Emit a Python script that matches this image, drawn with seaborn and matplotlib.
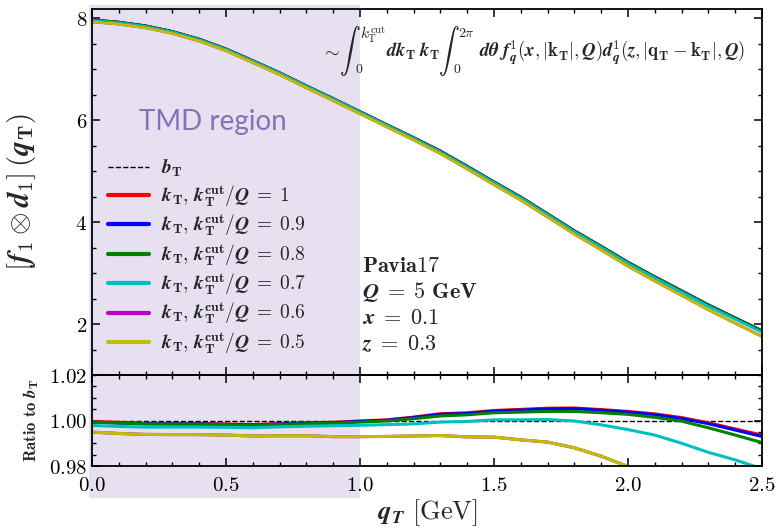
import numpy as np
import matplotlib
matplotlib.use("Agg")
import matplotlib.pyplot as plt
import matplotlib.ticker as mticker
from matplotlib.patches import Rectangle
from matplotlib.transforms import blended_transform_factory
import seaborn as sns

# transverse momentum grid [GeV]
q_T = [0.0, 0.1, 0.2, 0.3, 0.4, 0.5, 0.6, 0.7, 0.8, 0.9, 1.0, 1.1, 1.2,
       1.3, 1.4, 1.5, 1.6, 1.7, 1.8, 1.9, 2.0, 2.1, 2.2, 2.3, 2.4, 2.5]

# b_T-space result for [f1 (x) d1](q_T)
conv_bT = [7.97, 7.93, 7.86, 7.75, 7.60, 7.41, 7.18, 6.94, 6.68, 6.43, 6.17,
           5.91, 5.65, 5.38, 5.08, 4.77, 4.47, 4.14, 3.81, 3.51, 3.20, 2.92,
           2.65, 2.38, 2.13, 1.88]

# ratio of the k_T-space convolution (with cut) to the b_T result
ratio_cut10 = [0.9996, 0.9992, 0.9988, 0.9987, 0.9987, 0.9985, 0.9982, 0.9987,
               0.9990, 0.9992, 0.9998, 1.0003, 1.0015, 1.0030, 1.0034, 1.0044,
               1.0049, 1.0054, 1.0055, 1.0048, 1.0040, 1.0029, 1.0013, 0.9990,
               0.9963, 0.9936]
ratio_cut09 = [0.9993, 0.9989, 0.9986, 0.9985, 0.9985, 0.9983, 0.9980, 0.9985,
               0.9988, 0.9990, 0.9996, 1.0001, 1.0013, 1.0027, 1.0031, 1.0041,
               1.0046, 1.0051, 1.0052, 1.0045, 1.0037, 1.0026, 1.0009, 0.9986,
               0.9958, 0.9930]
ratio_cut08 = [0.9993, 0.9989, 0.9985, 0.9984, 0.9984, 0.9982, 0.9979, 0.9983,
               0.9986, 0.9988, 0.9993, 0.9998, 1.0008, 1.0020, 1.0025, 1.0034,
               1.0037, 1.0040, 1.0040, 1.0034, 1.0027, 1.0014, 0.9997, 0.9968,
               0.9936, 0.9903]
ratio_cut07 = [0.9978, 0.9974, 0.9971, 0.9971, 0.9971, 0.9970, 0.9968, 0.9972,
               0.9975, 0.9977, 0.9979, 0.9982, 0.9985, 0.9993, 0.9996, 1.0003,
               1.0003, 1.0004, 0.9998, 0.9981, 0.9960, 0.9936, 0.9900, 0.9860,
               0.9827, 0.9788]
ratio_cut06 = [0.9949, 0.9943, 0.9939, 0.9938, 0.9938, 0.9936, 0.9932, 0.9933,
               0.9933, 0.9929, 0.9929, 0.9930, 0.9932, 0.9934, 0.9928, 0.9927,
               0.9915, 0.9905, 0.9880, 0.9843, 0.9798, 0.9740, 0.9670, 0.9580,
               0.9470, 0.9350]
ratio_cut05 = [0.9949, 0.9943, 0.9939, 0.9938, 0.9938, 0.9936, 0.9932, 0.9933,
               0.9933, 0.9929, 0.9929, 0.9930, 0.9932, 0.9934, 0.9928, 0.9927,
               0.9915, 0.9905, 0.9880, 0.9843, 0.9798, 0.9740, 0.9670, 0.9580,
               0.9470, 0.9350]

cut_values = ["1", "0.9", "0.8", "0.7", "0.6", "0.5"]
ratios = [ratio_cut10, ratio_cut09, ratio_cut08, ratio_cut07, ratio_cut06, ratio_cut05]
colors = ["#ff0000", "#0000ff", "#008000", "#00bfbf", "#bf00bf", "#bfbf00"]

sns.set_theme(style="ticks")
plt.rcParams.update({
    "mathtext.fontset": "cm",
    "font.family": ["DejaVu Serif"],
    "axes.linewidth": 1.3,
    "axes.edgecolor": "black",
    "xtick.direction": "in",
    "ytick.direction": "in",
    "xtick.top": True,
    "ytick.right": True,
    "xtick.major.size": 6,
    "ytick.major.size": 6,
    "xtick.minor.size": 3,
    "ytick.minor.size": 3,
    "xtick.major.width": 1.1,
    "ytick.major.width": 1.1,
    "xtick.minor.width": 1.0,
    "ytick.minor.width": 1.0,
    "xtick.color": "black",
    "ytick.color": "black",
})

W, H = 782, 531
fig = plt.figure(figsize=(W / 100, H / 100), dpi=100)
gs = fig.add_gridspec(2, 1, height_ratios=[366, 91], hspace=0.0,
                      left=0.1176, right=0.9744, top=0.983, bottom=0.1224)
ax = fig.add_subplot(gs[0])
axr = fig.add_subplot(gs[1], sharex=ax)
for a in (ax, axr):
    a.set_facecolor("none")

q = np.array(q_T)
bT = np.array(conv_bT)

# TMD region band spanning both panels
band = Rectangle((-0.01, 0.062), 1.01, 0.9286,
                 transform=blended_transform_factory(axr.transData, fig.transFigure),
                 facecolor="#e6e0f0", edgecolor="none", zorder=-5)
fig.add_artist(band)

EQ = r"\;\mathbf{=}\;"

# upper panel: convolution
sns.lineplot(x=q, y=bT, ax=ax, color="black", linestyle="--", linewidth=1.0,
             label=r"$\boldsymbol{b}_\mathbf{T}$")
for cut, r, c in zip(cut_values, ratios, colors):
    lab = (r"$\boldsymbol{k}_\mathbf{T}\mathbf{,}\ \boldsymbol{k}_\mathbf{T}^\mathbf{cut}"
           r"\mathbf{/}\boldsymbol{Q}" + EQ + r"\mathbf{" + cut + r"}$")
    sns.lineplot(x=q, y=bT * np.array(r), ax=ax, color=c, linewidth=2.0, label=lab)

ax.set_xlim(0, 2.5)
ax.set_ylim(1.0, 8.18)
ax.yaxis.set_major_locator(mticker.MultipleLocator(2))
ax.yaxis.set_minor_locator(mticker.MultipleLocator(0.5))
ax.yaxis.set_major_formatter(mticker.FuncFormatter(lambda v, p: r"$\mathbf{%d}$" % round(v)))
ax.tick_params(axis="x", labelbottom=False)
ax.tick_params(axis="y", labelsize=15)
ax.set_ylabel(r"$\mathbf{[}\boldsymbol{f}_\mathbf{1}\otimes\boldsymbol{d}_\mathbf{1}\mathbf{]}\,"
              r"\mathbf{(}\boldsymbol{q}_\mathbf{T}\mathbf{)}$", fontsize=21, labelpad=8)

leg = ax.legend(loc="upper left", bbox_to_anchor=(0.012, 0.617), frameon=False,
                fontsize=14, handlelength=2.1, handletextpad=0.65,
                labelspacing=0.2, borderaxespad=0.0)
for h in leg.get_lines():
    h.set_linewidth(3.0)
leg.get_lines()[0].set_linewidth(1.0)

ax.text(0.18, 0.69, "TMD region", transform=ax.transAxes, ha="center", va="center",
        fontsize=20, color="#8373b8", family=["Lato", "DejaVu Sans"])

info = [r"$\mathbf{Pavia17}$", r"$\boldsymbol{Q}" + EQ + r"\mathbf{5\ GeV}$",
        r"$\boldsymbol{x}" + EQ + r"\mathbf{0.1}$", r"$\boldsymbol{z}" + EQ + r"\mathbf{0.3}$"]
for i, t in enumerate(info):
    ax.text(0.403, 0.298 - 0.071 * i, t, transform=ax.transAxes, ha="left",
            va="center", fontsize=16)


# convolution formula, typeset piece by piece so the integrals get display size
def ftext(x, y, s, fs, ha="left", va="baseline"):
    fig.text(x / W, 1 - y / H, s, fontsize=fs, ha=ha, va=va)


base = 57
ftext(321, base, r"$\sim$", 13.5)
ftext(339, 51, r"$\int$", 15, va="center")
ftext(360, 39, r"$k_\mathrm{T}^\mathrm{cut}$", 11)
ftext(355, 73, r"$0$", 10)
ftext(386, base, r"$\boldsymbol{dk}_\mathbf{T}\,\boldsymbol{k}_\mathbf{T}$", 13.5)
ftext(438, 51, r"$\int$", 15, va="center")
ftext(458, 37, r"$2\pi$", 10)
ftext(453, 73, r"$0$", 10)
ftext(745, base,
      r"$\boldsymbol{d\theta}\;\boldsymbol{f}_{\boldsymbol{q}}^{\mathbf{1}}"
      r"\mathbf{(}\boldsymbol{x}\mathbf{,}\,|\mathbf{k}_\mathbf{T}|\mathbf{,}\,\boldsymbol{Q}\mathbf{)}"
      r"\boldsymbol{d}_{\boldsymbol{q}}^{\mathbf{1}}\mathbf{(}\boldsymbol{z}\mathbf{,}\,"
      r"|\mathbf{q}_\mathbf{T}-\mathbf{k}_\mathbf{T}|\mathbf{,}\,\boldsymbol{Q}\mathbf{)}$",
      13.5, ha="right")

# lower panel: ratio to b_T
sns.lineplot(x=q, y=np.ones_like(q), ax=axr, color="black", linestyle="--",
             linewidth=1.0, legend=False)
for r, c in zip(ratios, colors):
    sns.lineplot(x=q, y=r, ax=axr, color=c, linewidth=2.2, legend=False)

axr.set_ylim(0.98, 1.02)
axr.yaxis.set_major_locator(mticker.MultipleLocator(0.02))
axr.yaxis.set_minor_locator(mticker.MultipleLocator(0.005))
axr.yaxis.set_major_formatter(mticker.FuncFormatter(lambda v, p: r"$\mathbf{%.2f}$" % v))
axr.xaxis.set_major_locator(mticker.MultipleLocator(0.5))
axr.xaxis.set_minor_locator(mticker.MultipleLocator(0.1))
axr.xaxis.set_major_formatter(mticker.FuncFormatter(lambda v, p: r"$\mathbf{%.1f}$" % v))
axr.tick_params(axis="both", labelsize=15)
axr.tick_params(axis="x", pad=7)
axr.set_ylabel(r"$\mathbf{Ratio\ to\ }\boldsymbol{b}_\mathbf{T}$", fontsize=12, labelpad=6)
axr.set_xlabel(r"$\boldsymbol{q}_{\boldsymbol{T}}\ \mathrm{[GeV]}$", fontsize=19, labelpad=2)

fig.align_ylabels([ax, axr])
fig.savefig("out.png", dpi=100)
